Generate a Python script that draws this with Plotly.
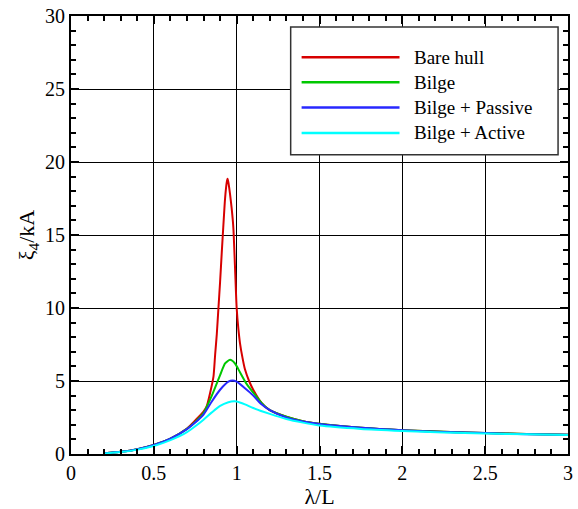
import plotly.graph_objects as go

# wavelength ratio lambda/L and roll amplitude xi4/kA
x_bare = [0.2, 0.3, 0.4, 0.5, 0.6, 0.7, 0.75, 0.8, 0.82, 0.84, 0.86, 0.87, 0.88, 0.89, 0.9, 0.91,
          0.92, 0.93, 0.94, 0.945, 0.95, 0.96, 0.97, 0.98, 0.99, 1.0, 1.01, 1.02, 1.035, 1.05,
          1.075, 1.1, 1.15, 1.2, 1.3, 1.4, 1.5, 1.75, 2.0, 2.25, 2.5, 2.75, 3.0]
y_bare = [0.05, 0.15, 0.33, 0.62, 1.05, 1.75, 2.3, 2.9, 3.3, 4.2, 5.3, 6.8, 8.2, 10.0, 11.8, 13.8,
          15.7, 17.5, 18.6, 18.85, 18.6, 17.8, 16.8, 15.5, 12.8, 10.0, 8.6, 7.6, 6.6, 5.8,
          5.0, 4.4, 3.5, 3.0, 2.55, 2.25, 2.07, 1.8, 1.63, 1.52, 1.44, 1.37, 1.32]

x_bilge = [0.2, 0.3, 0.4, 0.5, 0.6, 0.7, 0.75, 0.8, 0.85, 0.9, 0.93, 0.96, 0.99, 1.02, 1.06,
           1.1, 1.15, 1.2, 1.3, 1.4, 1.5, 1.75, 2.0, 2.25, 2.5, 2.75, 3.0]
y_bilge = [0.05, 0.15, 0.33, 0.62, 1.05, 1.72, 2.2, 2.8, 4.0, 5.4, 6.2, 6.45, 6.2, 5.6, 4.8,
           4.2, 3.5, 3.0, 2.55, 2.25, 2.07, 1.8, 1.63, 1.52, 1.44, 1.37, 1.32]

x_passive = [0.2, 0.3, 0.4, 0.5, 0.6, 0.7, 0.75, 0.8, 0.85, 0.9, 0.95, 0.975, 1.0, 1.05, 1.1,
             1.15, 1.2, 1.3, 1.4, 1.5, 1.75, 2.0, 2.25, 2.5, 2.75, 3.0]
y_passive = [0.05, 0.15, 0.33, 0.62, 1.05, 1.7, 2.15, 2.7, 3.6, 4.4, 4.95, 5.03, 4.95, 4.5, 4.0,
             3.4, 3.0, 2.5, 2.22, 2.05, 1.79, 1.62, 1.51, 1.43, 1.36, 1.31]

x_active = [0.2, 0.3, 0.4, 0.5, 0.6, 0.7, 0.75, 0.8, 0.85, 0.9, 0.95, 0.985, 1.0, 1.05, 1.1,
            1.2, 1.3, 1.4, 1.5, 1.75, 2.0, 2.25, 2.5, 2.75, 3.0]
y_active = [0.04, 0.13, 0.3, 0.55, 0.95, 1.5, 1.9, 2.35, 2.85, 3.3, 3.55, 3.62, 3.6, 3.4, 3.15,
            2.75, 2.4, 2.15, 1.95, 1.72, 1.58, 1.47, 1.4, 1.35, 1.3]

series = [
    ("Bare hull", x_bare, y_bare, "rgb(215,0,0)"),
    ("Bilge", x_bilge, y_bilge, "rgb(0,200,0)"),
    ("Bilge + Passive", x_passive, y_passive, "rgb(40,40,255)"),
    ("Bilge + Active", x_active, y_active, "rgb(0,255,255)"),
]

fig = go.Figure()
for name, xs, ys, color in series:
    fig.add_trace(go.Scatter(x=xs, y=ys, mode="lines", name=name, showlegend=False,
                             line=dict(color=color, width=2, shape="spline", smoothing=0.6)))

font = "Times New Roman"
axis_common = dict(
    showline=True, linewidth=2, linecolor="black", mirror="allticks",
    ticks="inside", ticklen=8, tickwidth=2, tickcolor="black",
    showgrid=True, gridcolor="black", gridwidth=1, zeroline=False,
    tickfont=dict(family=font, size=20, color="black"),
)

# boxed legend with long line samples, like the original figure
shapes = [dict(type="rect", xref="paper", yref="paper", x0=0.442, x1=0.980, y0=0.683, y1=0.975,
               fillcolor="white", line=dict(color="#333333", width=1.5), layer="above")]
annotations = []
row_y = [0.906, 0.849, 0.791, 0.733]
for (name, _, _, color), ry in zip(series, row_y):
    shapes.append(dict(type="line", xref="paper", yref="paper", x0=0.464, x1=0.661, y0=ry, y1=ry,
                       line=dict(color=color, width=2.5), layer="above"))
    annotations.append(dict(text=name, xref="paper", yref="paper", x=0.686, y=ry,
                            xanchor="left", yanchor="middle", showarrow=False,
                            font=dict(family=font, size=19, color="black")))

fig.update_layout(
    width=578, height=509,
    margin=dict(l=71, r=5, t=16, b=52),
    paper_bgcolor="white", plot_bgcolor="white",
    font=dict(family=font, color="black"),
    xaxis=dict(range=[0, 3], dtick=0.5,
               minor=dict(ticks="inside", dtick=0.1, ticklen=5, tickcolor="black", showgrid=False),
               title=dict(text="λ/L", font=dict(family=font, size=22), standoff=5),
               **axis_common),
    yaxis=dict(range=[0, 30], dtick=5,
               minor=dict(ticks="inside", dtick=1, ticklen=5, tickcolor="black", showgrid=False),
               title=dict(text="ξ<sub>4</sub>/kA", font=dict(family=font, size=22), standoff=4),
               **axis_common),
    shapes=shapes,
    annotations=annotations,
)

fig.write_html("out.html", config={"displayModeBar": False},
               post_script="document.body.style.margin='0';")
